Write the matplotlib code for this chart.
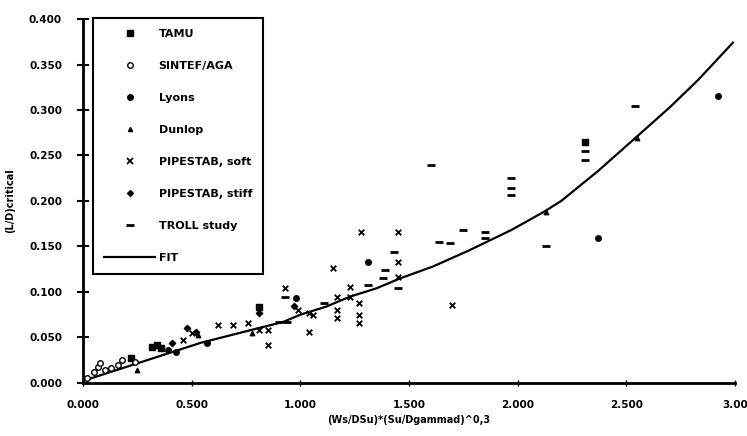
"""Critical L/D versus (Ws/DSu)*(Su/Dgammad)^0.3 -- scanned scatter with fit."""
import matplotlib
matplotlib.use("Agg")
import matplotlib.pyplot as plt
from matplotlib.lines import Line2D

plt.rcParams.update({
    "font.family": "DejaVu Sans",
    "font.size": 8,
    "font.weight": "bold",
})

# ---- data ----
TAMU_X = [0.22, 0.32, 0.34, 0.36, 0.81, 2.31]
TAMU_Y = [0.027, 0.040, 0.042, 0.038, 0.084, 0.265]

SINTEF_X = [0.02, 0.05, 0.07, 0.08, 0.10, 0.13, 0.16, 0.18, 0.24]
SINTEF_Y = [0.005, 0.012, 0.018, 0.022, 0.014, 0.016, 0.020, 0.025, 0.023]

LYONS_X = [0.39, 0.43, 0.57, 0.98, 1.31, 2.37, 2.92]
LYONS_Y = [0.036, 0.034, 0.044, 0.093, 0.133, 0.159, 0.315]

DUNLOP_X = [0.25, 0.53, 0.78, 2.13, 2.55]
DUNLOP_Y = [0.014, 0.053, 0.055, 0.188, 0.269]

SOFT_X = [0.46, 0.50, 0.62, 0.69, 0.76, 0.81, 0.85, 0.85, 0.93, 0.99,
          1.04, 1.06, 1.04, 1.15, 1.17, 1.17, 1.17, 1.23, 1.23, 1.27,
          1.27, 1.27, 1.28, 1.45, 1.45, 1.45, 1.70]
SOFT_Y = [0.047, 0.055, 0.064, 0.064, 0.066, 0.058, 0.058, 0.042, 0.104, 0.080,
          0.077, 0.075, 0.056, 0.126, 0.095, 0.080, 0.071, 0.106, 0.095, 0.088,
          0.075, 0.066, 0.166, 0.166, 0.133, 0.117, 0.086]

STIFF_X = [0.41, 0.48, 0.52, 0.81, 0.97]
STIFF_Y = [0.044, 0.060, 0.056, 0.077, 0.085]

TROLL_X = [0.90, 0.93, 0.94, 1.11, 1.31, 1.38, 1.39, 1.43, 1.45, 1.60, 1.64,
           1.69, 1.75, 1.85, 1.85, 1.97, 1.97, 1.97, 2.13, 2.31, 2.31, 2.54]
TROLL_Y = [0.067, 0.095, 0.067, 0.088, 0.108, 0.115, 0.124, 0.144, 0.104, 0.240, 0.155,
           0.154, 0.168, 0.166, 0.159, 0.225, 0.214, 0.207, 0.150, 0.255, 0.245, 0.304]

FIT_X = [0.01, 0.54, 0.77, 0.92, 1.00, 1.12, 1.23, 1.35, 1.46, 1.61,
         1.77, 1.97, 2.12, 2.20, 2.37, 2.54, 2.70, 2.83, 2.99]
FIT_Y = [0.003, 0.044, 0.058, 0.067, 0.075, 0.084, 0.095, 0.104, 0.115, 0.128,
         0.145, 0.168, 0.188, 0.200, 0.233, 0.269, 0.303, 0.333, 0.374]

XTICKS = [0.0, 0.5, 1.0, 1.5, 2.0, 2.5, 3.0]
XTICKLABELS = ["0.000", "0.500", "1.000", "1.500", "2.000", "2.500", "3.00"]
YTICKS = [0.0, 0.05, 0.10, 0.15, 0.20, 0.25, 0.30, 0.35, 0.40]
YTICKLABELS = ["0.000", "0.050", "0.100", "0.150", "0.200", "0.250", "0.300", "0.350", "0.400"]

fig = plt.figure(figsize=(7.47, 4.36), dpi=100)
ax = fig.add_axes([0.111, 0.1216, 0.873, 0.8348])

K = "black"
ax.scatter(TAMU_X, TAMU_Y, marker="s", s=14, color=K, zorder=3)
ax.scatter(SINTEF_X, SINTEF_Y, marker="o", s=16, facecolors="white", edgecolors=K, linewidths=1.0, zorder=3)
ax.scatter(LYONS_X, LYONS_Y, marker="o", s=16, color=K, zorder=3)
ax.scatter(DUNLOP_X, DUNLOP_Y, marker="^", s=10, color=K, zorder=3)
ax.scatter(SOFT_X, SOFT_Y, marker="x", s=16, color=K, linewidths=1.3, zorder=3)
ax.scatter(STIFF_X, STIFF_Y, marker="D", s=10, color=K, zorder=3)
ax.scatter(TROLL_X, TROLL_Y, marker="_", s=30, color=K, linewidths=2.0, zorder=3)
ax.plot(FIT_X, FIT_Y, color=K, lw=1.6, zorder=2)

ax.set_xlim(0, 3.0)
ax.set_ylim(0, 0.4)
ax.set_xticks(XTICKS)
ax.set_xticklabels(XTICKLABELS)
ax.set_yticks(YTICKS)
ax.set_yticklabels(YTICKLABELS)
ax.spines["top"].set_visible(False)
ax.spines["right"].set_visible(False)
ax.spines["left"].set_linewidth(2.0)
ax.spines["bottom"].set_linewidth(2.0)
ax.tick_params(axis="y", direction="inout", length=8, width=1.5, pad=11, labelsize=7.5)
ax.tick_params(axis="x", direction="inout", length=4, width=1.0, pad=10, labelsize=7.5)

ax.set_xlabel("(Ws/DSu)*(Su/Dgammad)^0,3", fontsize=7, fontweight="bold", labelpad=4)
ax.set_ylabel("(L/D)critical", fontsize=7, fontweight="bold", labelpad=10)

handles = [
    Line2D([], [], ls="none", marker="s", ms=4, color=K),
    Line2D([], [], ls="none", marker="o", ms=4, mfc="white", mec=K),
    Line2D([], [], ls="none", marker="o", ms=4, color=K),
    Line2D([], [], ls="none", marker="^", ms=3, color=K),
    Line2D([], [], ls="none", marker="x", ms=4, mew=1.3, color=K),
    Line2D([], [], ls="none", marker="D", ms=3, color=K),
    Line2D([], [], ls="none", marker="_", ms=6, mew=2.0, color=K),
    Line2D([], [], color=K, lw=1.6),
]
labels = ["TAMU", "SINTEF/AGA", "Lyons", "Dunlop", "PIPESTAB, soft",
          "PIPESTAB, stiff", "TROLL study", "FIT"]
leg = fig.legend(handles, labels, loc="upper left", bbox_to_anchor=(0.117, 0.972),
                 frameon=True, fancybox=False, edgecolor=K, framealpha=1,
                 fontsize=8, numpoints=1, handlelength=4.6, handletextpad=0.3,
                 labelspacing=1.98, borderpad=1.0)
leg.get_frame().set_linewidth(1.5)

fig.savefig("out.png", dpi=100)
